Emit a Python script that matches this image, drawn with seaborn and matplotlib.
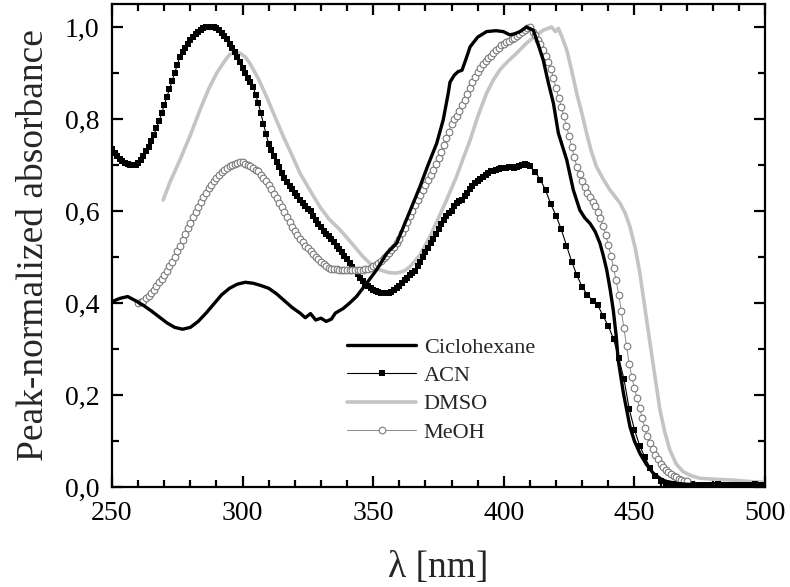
import numpy as np
import pandas as pd
import matplotlib
matplotlib.use("Agg")
import matplotlib.pyplot as plt
from matplotlib.ticker import MultipleLocator, FuncFormatter
import seaborn as sns

# ---------------- data ----------------
labels = ["Ciclohexane", "ACN", "DMSO", "MeOH"]

cyc_x = [250, 253, 256, 259, 262, 265, 268, 271, 274, 277, 280, 283, 286, 289, 292, 295, 298,
         301, 304, 307, 310, 313, 316, 319, 322, 324, 326, 328, 330, 332, 334, 335.5, 338.5, 341,
         343.6, 347.5, 351.3, 355.2, 359, 363, 367.9, 371, 374.3, 376.8, 378.7, 379.4, 381, 382.5,
         384, 385.5, 387.1, 390, 393.4, 397, 399.8, 402.3, 404, 406.2, 408.7, 411.3, 413, 415.1,
         417, 419, 420.9, 422.5, 424.1, 426.6, 429.1, 431, 433, 435, 436.8, 438, 439.4, 440.7,
         441.9, 443, 443.8, 445.8, 448.3, 450, 452.1, 454.5, 457.2, 460, 462.3, 466, 470, 475,
         480, 485, 490, 495, 500]
cyc_y = [0.403, 0.410, 0.414, 0.405, 0.395, 0.383, 0.370, 0.357, 0.347, 0.343, 0.347, 0.360,
         0.378, 0.398, 0.418, 0.432, 0.441, 0.445, 0.443, 0.438, 0.432, 0.420, 0.405, 0.390,
         0.378, 0.368, 0.377, 0.363, 0.367, 0.360, 0.365, 0.378, 0.388, 0.400, 0.414, 0.443,
         0.472, 0.508, 0.530, 0.585, 0.653, 0.700, 0.747, 0.798, 0.855, 0.880, 0.895, 0.903,
         0.906, 0.930, 0.957, 0.978, 0.990, 0.992, 0.990, 0.983, 0.985, 0.990, 1.000, 0.993,
         0.965, 0.928, 0.880, 0.834, 0.769, 0.740, 0.711, 0.646, 0.602, 0.585, 0.573, 0.555,
         0.530, 0.505, 0.472, 0.430, 0.385, 0.330, 0.276, 0.204, 0.131, 0.100, 0.073, 0.050,
         0.030, 0.018, 0.012, 0.008, 0.006, 0.005, 0.004, 0.005, 0.004, 0.005, 0.004]

acn_x = list(range(250, 411)) + list(range(412, 502, 2))
acn_y = [0.735, 0.727, 0.720, 0.713, 0.708, 0.704, 0.702, 0.700, 0.700, 0.701,   # 250-259
         0.705, 0.711, 0.720, 0.730, 0.740, 0.752, 0.765, 0.780, 0.795, 0.812,   # 260-269
         0.830, 0.848, 0.865, 0.883, 0.900, 0.918, 0.935, 0.946, 0.955, 0.964,   # 270-279
         0.972, 0.979, 0.985, 0.990, 0.994, 0.997, 0.999, 1.000, 1.000, 0.999,   # 280-289
         0.997, 0.993, 0.988, 0.981, 0.973, 0.964, 0.955, 0.945, 0.935, 0.923,   # 290-299
         0.910, 0.900, 0.890, 0.880, 0.870, 0.853, 0.835, 0.812, 0.790, 0.767,   # 300-309
         0.745, 0.732, 0.720, 0.707, 0.695, 0.683, 0.672, 0.663, 0.655, 0.647,   # 310-319
         0.640, 0.632, 0.625, 0.617, 0.610, 0.605, 0.600, 0.590, 0.580, 0.572,   # 320-329
         0.565, 0.557, 0.550, 0.545, 0.540, 0.532, 0.525, 0.517, 0.510, 0.502,   # 330-339
         0.495, 0.486, 0.478, 0.470, 0.462, 0.455, 0.448, 0.442, 0.437, 0.432,   # 340-349
         0.428, 0.426, 0.424, 0.422, 0.421, 0.421, 0.422, 0.425, 0.428, 0.433,   # 350-359
         0.438, 0.444, 0.450, 0.455, 0.460, 0.465, 0.470, 0.480, 0.490, 0.500,   # 360-369
         0.510, 0.520, 0.530, 0.540, 0.550, 0.561, 0.572, 0.581, 0.590, 0.595,   # 370-379
         0.600, 0.610, 0.617, 0.621, 0.625, 0.632, 0.640, 0.648, 0.655, 0.660,   # 380-389
         0.665, 0.670, 0.675, 0.679, 0.683, 0.686, 0.688, 0.690, 0.692, 0.693,   # 390-399
         0.693, 0.694, 0.695, 0.695, 0.694, 0.696, 0.698, 0.700, 0.703, 0.700,   # 400-409
         0.697,                                                                   # 410
         0.685, 0.668, 0.645, 0.615, 0.590, 0.560, 0.525, 0.490, 0.460, 0.435,   # 412-430
         0.418, 0.405, 0.395, 0.372, 0.350, 0.322, 0.280, 0.235, 0.170, 0.125,   # 432-450
         0.090, 0.065, 0.042, 0.025, 0.014, 0.009, 0.007, 0.006, 0.005,          # 452-468
         0.005, 0.006, 0.004, 0.005, 0.005, 0.004, 0.006, 0.005, 0.004, 0.005,   # 470-488
         0.005, 0.004, 0.005, 0.006, 0.004, 0.005]                               # 490-500

dmso_x = [269.6, 272, 276, 280, 283.7, 287, 290, 293, 295, 297.1, 299, 301, 302.8, 306, 309.2,
          312, 315.6, 319, 322, 326, 329.6, 333, 337.3, 341, 346.2, 349, 352.6, 356, 359, 362,
          364.1, 368, 371.7, 375, 378.1, 381.9, 384.5, 387.1, 390, 393.4, 396, 398.5, 401.5,
          404.9, 408.7, 412, 415.1, 418.3, 419.8, 420.9, 422.5, 424.1, 426, 427.9, 430, 431.7,
          433.5, 435.5, 438, 440.6, 442.5, 444.5, 446.5, 448.3, 450.3, 452.1, 454, 456, 458,
          459.8, 461.7, 463.6, 466, 468.7, 472, 475.1, 480, 487.8, 494, 500]
dmso_y = [0.624, 0.660, 0.711, 0.765, 0.820, 0.865, 0.899, 0.925, 0.940, 0.946, 0.943, 0.935,
          0.921, 0.888, 0.848, 0.810, 0.762, 0.720, 0.682, 0.643, 0.609, 0.583, 0.559, 0.535,
          0.500, 0.485, 0.472, 0.466, 0.465, 0.470, 0.479, 0.505, 0.544, 0.585, 0.624, 0.675,
          0.715, 0.754, 0.805, 0.856, 0.885, 0.907, 0.925, 0.943, 0.965, 0.980, 0.993, 1.000,
          0.990, 0.997, 0.975, 0.950, 0.905, 0.856, 0.810, 0.769, 0.730, 0.696, 0.670, 0.646,
          0.632, 0.617, 0.595, 0.566, 0.520, 0.465, 0.390, 0.312, 0.235, 0.167, 0.118, 0.080,
          0.050, 0.033, 0.024, 0.019, 0.017, 0.015, 0.012, 0.010]

meoh_x = list(range(260, 471))
meoh_y = [0.400, 0.402, 0.405, 0.410, 0.415, 0.421, 0.428, 0.436, 0.445, 0.452,   # 260-269
          0.460, 0.470, 0.480, 0.490, 0.500, 0.512, 0.525, 0.537, 0.550, 0.562,   # 270-279
          0.575, 0.587, 0.598, 0.609, 0.620, 0.630, 0.640, 0.649, 0.657, 0.665,   # 280-289
          0.672, 0.679, 0.685, 0.690, 0.694, 0.697, 0.700, 0.703, 0.705, 0.706,   # 290-299
          0.706, 0.703, 0.700, 0.697, 0.693, 0.690, 0.686, 0.679, 0.672, 0.665,   # 300-309
          0.657, 0.648, 0.638, 0.628, 0.618, 0.608, 0.598, 0.588, 0.577, 0.566,   # 310-319
          0.556, 0.548, 0.540, 0.532, 0.525, 0.519, 0.514, 0.507, 0.500, 0.495,   # 320-329
          0.490, 0.485, 0.480, 0.477, 0.475, 0.474, 0.473, 0.472, 0.472, 0.471,   # 330-339
          0.471, 0.471, 0.471, 0.471, 0.471, 0.471, 0.472, 0.473, 0.475, 0.477,   # 340-349
          0.480, 0.483, 0.487, 0.492, 0.497, 0.502, 0.508,                        # 350-356
          0.515, 0.522, 0.530,                                                    # 357-359
          0.540, 0.552, 0.564, 0.576, 0.589, 0.600, 0.612, 0.623, 0.634, 0.645,   # 360-369
          0.656, 0.667, 0.679, 0.690, 0.703, 0.716, 0.729, 0.743, 0.758, 0.772,   # 370-379
          0.790, 0.800, 0.806, 0.818, 0.830, 0.842, 0.855, 0.868, 0.880, 0.892,   # 380-389
          0.902, 0.911, 0.920, 0.926, 0.932, 0.938, 0.944, 0.950, 0.955, 0.960,   # 390-399
          0.963, 0.967, 0.970, 0.973, 0.977, 0.981, 0.985, 0.989, 0.993, 0.998,   # 400-409
          0.999, 0.990, 0.982, 0.972, 0.962, 0.950, 0.937, 0.924, 0.908, 0.890,   # 410-419
          0.868, 0.846, 0.827, 0.806, 0.785, 0.762, 0.740, 0.717, 0.695, 0.680,   # 420-429
          0.665, 0.652, 0.640, 0.631, 0.620, 0.610, 0.598, 0.585, 0.568, 0.548,   # 430-439
          0.527, 0.503, 0.477, 0.449, 0.418, 0.383, 0.345, 0.307, 0.268, 0.240,   # 440-449
          0.215, 0.194, 0.172, 0.150, 0.128, 0.110, 0.095, 0.082, 0.070, 0.060,   # 450-459
          0.051, 0.044, 0.038, 0.033, 0.028, 0.024, 0.021, 0.018, 0.016, 0.014,   # 460-469
          0.012]                                                                  # 470

x_ticks = [250, 300, 350, 400, 450, 500]
y_ticks = [0.0, 0.2, 0.4, 0.6, 0.8, 1.0]

# ---------------- plot ----------------
sns.set_theme(style="ticks")
plt.rcParams["font.family"] = ["Liberation Serif", "DejaVu Serif"]

fig = plt.figure(figsize=(7.9, 5.87), dpi=100)
ax = fig.add_axes([112 / 790, 1 - 487 / 587, 653 / 790, 483 / 587])

sns.lineplot(x=cyc_x, y=cyc_y, ax=ax, color="black", lw=2.4, sort=False,
             estimator=None, label=labels[0], zorder=4)
sns.lineplot(x=acn_x, y=acn_y, ax=ax, color="black", lw=0.8, sort=False,
             estimator=None, marker="s", markersize=4.8, markeredgewidth=0,
             markerfacecolor="black", label=labels[1], zorder=3)
sns.lineplot(x=dmso_x, y=dmso_y, ax=ax, color="#c4c4c4", lw=2.6, sort=False,
             estimator=None, label=labels[2], zorder=2)
sns.lineplot(x=meoh_x, y=meoh_y, ax=ax, color="#8a8a8a", lw=0.7, sort=False,
             estimator=None, marker="o", markersize=4.8, markeredgewidth=0.8,
             markerfacecolor="white", markeredgecolor="#7a7a7a",
             label=labels[3], zorder=3)

ax.set_xlim(250, 500)
ax.set_ylim(0, 1.05)
ax.set_xticks(x_ticks)
ax.set_yticks(y_ticks)
ax.xaxis.set_minor_locator(MultipleLocator(10))
ax.yaxis.set_minor_locator(MultipleLocator(0.1))
ax.yaxis.set_major_formatter(FuncFormatter(lambda v, p: f"{v:.1f}".replace(".", ",")))
ax.tick_params(which="both", direction="in", top=True, right=True, width=1.6,
               labelsize=20, colors="black")
ax.tick_params(which="major", length=8)
ax.tick_params(which="minor", length=5)
ax.tick_params(axis="x", which="major", pad=10)
ax.tick_params(axis="y", which="major", pad=9)
for s in ax.spines.values():
    s.set_linewidth(1.6)
    s.set_color("black")

ax.set_xlabel("λ [nm]", fontsize=27, labelpad=18)
ax.set_ylabel("Peak-normalized absorbance", fontsize=27, labelpad=10)

leg = ax.legend(loc="upper left", bbox_to_anchor=(0.36, 0.31), frameon=False,
                fontsize=16, handlelength=3.1, handletextpad=0.35,
                labelspacing=0.35, borderpad=0, borderaxespad=0)

fig.savefig("out.png", dpi=100)
